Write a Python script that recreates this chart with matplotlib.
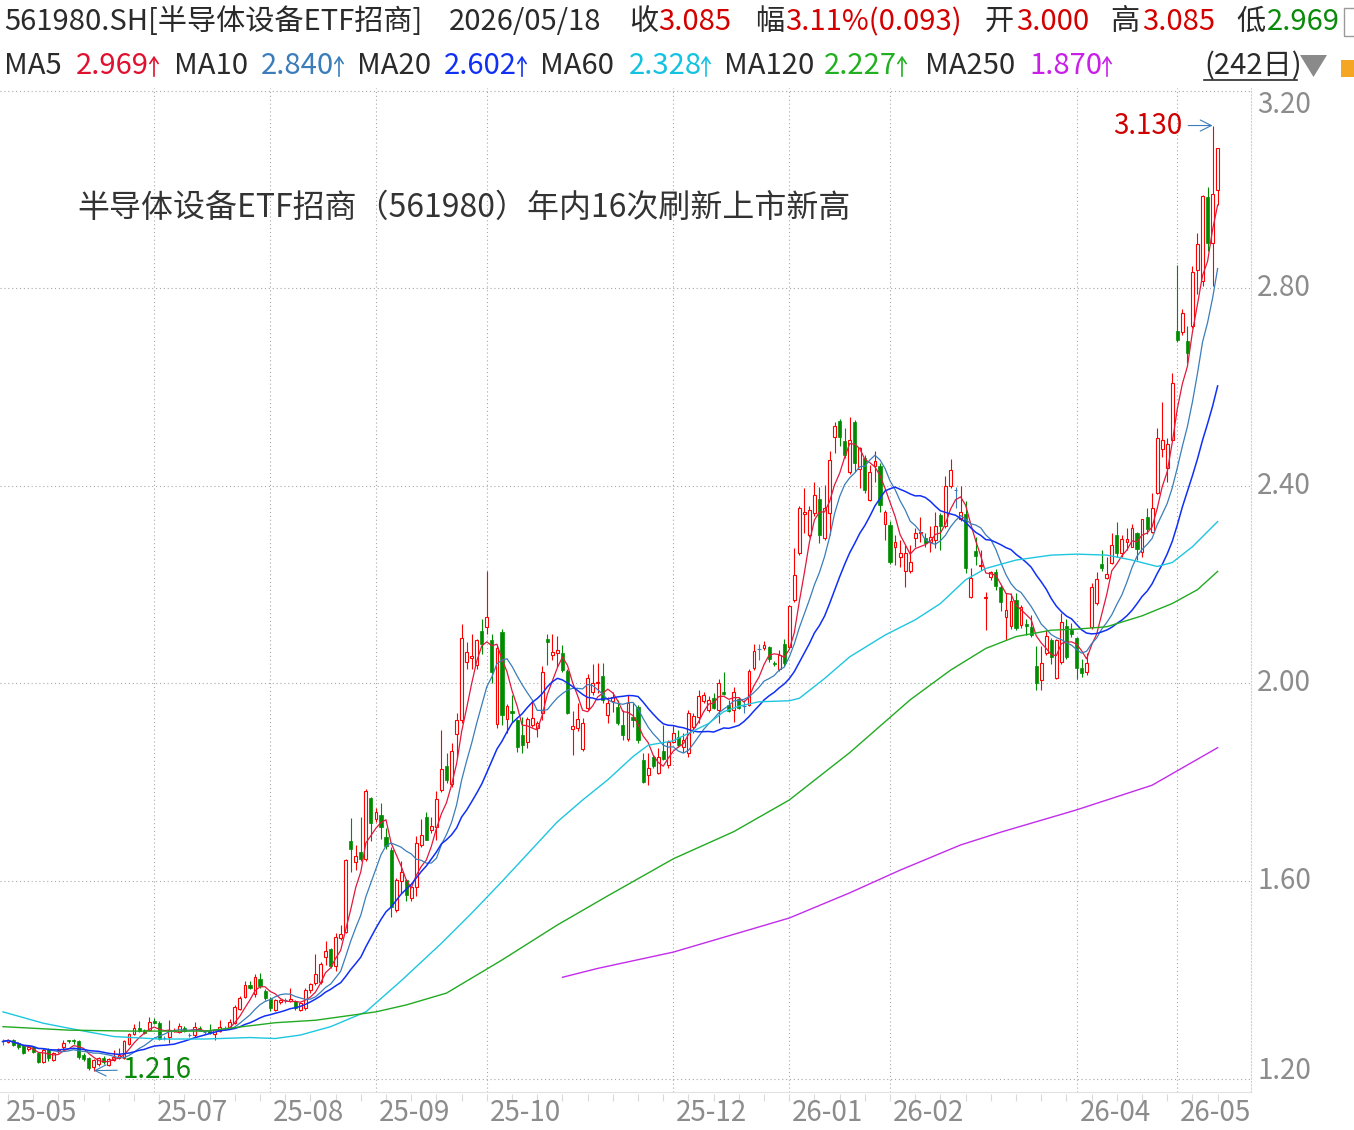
import numpy as np
import pandas as pd
import matplotlib
matplotlib.use("Agg")
import matplotlib.pyplot as plt
from matplotlib.lines import Line2D
from matplotlib.patches import Rectangle, Polygon, FancyArrowPatch

plt.rcParams['font.family'] = ['Noto Sans CJK SC', 'DejaVu Sans']

W, H = 1354, 1130

# daily OHLC of 561980.SH, 242 sessions up to 2026/05/18
opens = [
    1.275, 1.274, 1.278, 1.271, 1.266, 1.259, 1.263, 1.252, 1.234, 1.259,
    1.238, 1.255, 1.263, 1.277, 1.277, 1.276, 1.248, 1.241, 1.224, 1.229,
    1.241, 1.227, 1.237, 1.241, 1.241, 1.270, 1.291, 1.303, 1.298, 1.298,
    1.316, 1.313, 1.283, 1.284, 1.297, 1.295, 1.303, 1.288, 1.288, 1.302,
    1.295, 1.298, 1.290, 1.297, 1.303, 1.305, 1.312, 1.340, 1.366, 1.390,
    1.372, 1.401, 1.377, 1.362, 1.339, 1.354, 1.359, 1.358, 1.356, 1.339,
    1.342, 1.379, 1.393, 1.396, 1.447, 1.462, 1.427, 1.484, 1.497, 1.681,
    1.639, 1.658, 1.645, 1.769, 1.725, 1.734, 1.690, 1.663, 1.541, 1.601,
    1.602, 1.566, 1.588, 1.672, 1.730, 1.703, 1.710, 1.784, 1.833, 1.796,
    1.897, 1.927, 2.044, 2.052, 2.037, 2.107, 2.115, 2.088, 1.917, 2.105,
    1.929, 1.945, 1.926, 1.896, 1.882, 1.916, 1.909, 1.940, 2.091, 2.058,
    2.061, 2.061, 2.026, 1.908, 1.909, 1.867, 1.950, 1.983, 2.002, 2.015,
    1.937, 1.965, 1.952, 1.916, 1.887, 1.933, 1.952, 1.845, 1.815, 1.852,
    1.819, 1.863, 1.835, 1.882, 1.892, 1.872, 1.859, 1.911, 1.933, 1.964,
    1.946, 1.970, 1.946, 1.983, 1.956, 1.946, 1.968, 1.955, 1.957, 2.031,
    2.069, 2.071, 2.073, 2.042, 2.029, 2.080, 2.074, 2.169, 2.264, 2.343,
    2.301, 2.346, 2.374, 2.294, 2.345, 2.499, 2.532, 2.492, 2.429, 2.530,
    2.435, 2.456, 2.371, 2.441, 2.440, 2.323, 2.321, 2.276, 2.256, 2.227,
    2.227, 2.294, 2.305, 2.294, 2.287, 2.291, 2.341, 2.318, 2.400, 2.392,
    2.333, 2.344, 2.176, 2.268, 2.238, 2.173, 2.216, 2.225, 2.196, 2.134,
    2.117, 2.170, 2.119, 2.120, 2.115, 2.035, 2.007, 2.062, 2.088, 2.011,
    2.044, 2.117, 2.108, 2.093, 2.031, 2.024, 2.115, 2.164, 2.242, 2.214,
    2.245, 2.301, 2.265, 2.287, 2.277, 2.304, 2.267, 2.337, 2.307, 2.385,
    2.474, 2.436, 2.493, 2.713, 2.711, 2.694, 2.723, 2.838, 2.815, 2.985,
    2.892, 3.000,
]
highs = [
    1.281, 1.281, 1.280, 1.273, 1.268, 1.266, 1.266, 1.254, 1.261, 1.262,
    1.254, 1.262, 1.278, 1.279, 1.280, 1.279, 1.252, 1.243, 1.240, 1.244,
    1.245, 1.242, 1.258, 1.262, 1.278, 1.293, 1.310, 1.316, 1.301, 1.324,
    1.323, 1.316, 1.286, 1.318, 1.303, 1.313, 1.307, 1.292, 1.315, 1.306,
    1.298, 1.310, 1.300, 1.318, 1.306, 1.320, 1.348, 1.368, 1.398, 1.398,
    1.412, 1.413, 1.382, 1.365, 1.362, 1.362, 1.363, 1.383, 1.359, 1.355,
    1.383, 1.394, 1.452, 1.436, 1.478, 1.465, 1.494, 1.510, 1.645, 1.728,
    1.673, 1.730, 1.787, 1.771, 1.748, 1.757, 1.707, 1.668, 1.606, 1.640,
    1.605, 1.590, 1.692, 1.726, 1.740, 1.730, 1.783, 1.905, 1.860, 1.880,
    1.940, 2.120, 2.085, 2.100, 2.090, 2.130, 2.227, 2.100, 2.077, 2.110,
    1.958, 1.977, 1.928, 1.933, 1.933, 1.965, 1.924, 2.035, 2.100, 2.100,
    2.096, 2.078, 2.030, 1.945, 1.960, 1.930, 2.020, 2.040, 2.042, 2.041,
    1.973, 1.983, 1.967, 1.946, 1.977, 1.960, 1.956, 1.859, 1.859, 1.856,
    1.869, 1.916, 1.886, 1.913, 1.906, 1.899, 1.946, 1.940, 1.987, 1.983,
    1.975, 1.981, 2.010, 2.024, 1.966, 1.993, 1.973, 1.966, 2.030, 2.081,
    2.080, 2.087, 2.076, 2.046, 2.068, 2.091, 2.159, 2.274, 2.360, 2.395,
    2.360, 2.409, 2.397, 2.403, 2.470, 2.530, 2.536, 2.517, 2.540, 2.534,
    2.478, 2.462, 2.442, 2.471, 2.447, 2.352, 2.330, 2.300, 2.290, 2.280,
    2.280, 2.314, 2.338, 2.304, 2.318, 2.348, 2.345, 2.420, 2.454, 2.397,
    2.400, 2.370, 2.233, 2.297, 2.270, 2.186, 2.228, 2.231, 2.199, 2.183,
    2.183, 2.184, 2.159, 2.130, 2.139, 2.075, 2.075, 2.108, 2.093, 2.090,
    2.142, 2.130, 2.122, 2.095, 2.049, 2.061, 2.203, 2.225, 2.270, 2.257,
    2.304, 2.328, 2.301, 2.314, 2.323, 2.307, 2.333, 2.356, 2.385, 2.517,
    2.571, 2.497, 2.628, 2.848, 2.758, 2.724, 2.846, 2.913, 2.990, 3.006,
    3.130, 3.085,
]
lows = [
    1.268, 1.271, 1.266, 1.260, 1.249, 1.256, 1.252, 1.231, 1.232, 1.236,
    1.235, 1.252, 1.260, 1.272, 1.270, 1.240, 1.236, 1.218, 1.216, 1.226,
    1.230, 1.225, 1.235, 1.239, 1.239, 1.268, 1.289, 1.295, 1.291, 1.296,
    1.310, 1.279, 1.278, 1.272, 1.294, 1.292, 1.294, 1.284, 1.285, 1.297,
    1.291, 1.290, 1.278, 1.295, 1.299, 1.303, 1.310, 1.338, 1.363, 1.381,
    1.365, 1.383, 1.360, 1.337, 1.337, 1.350, 1.353, 1.355, 1.338, 1.336,
    1.339, 1.374, 1.390, 1.392, 1.430, 1.424, 1.418, 1.481, 1.495, 1.619,
    1.622, 1.640, 1.640, 1.682, 1.720, 1.685, 1.665, 1.528, 1.538, 1.575,
    1.560, 1.560, 1.570, 1.668, 1.683, 1.698, 1.683, 1.780, 1.798, 1.790,
    1.850, 1.920, 2.030, 2.030, 2.030, 2.060, 2.100, 2.000, 1.910, 1.916,
    1.899, 1.923, 1.862, 1.860, 1.870, 1.912, 1.892, 1.926, 2.037, 2.047,
    2.034, 2.024, 1.938, 1.856, 1.904, 1.864, 1.946, 1.976, 1.980, 1.960,
    1.919, 1.943, 1.915, 1.886, 1.884, 1.912, 1.880, 1.798, 1.795, 1.828,
    1.816, 1.845, 1.828, 1.880, 1.872, 1.862, 1.852, 1.899, 1.919, 1.960,
    1.943, 1.948, 1.919, 1.976, 1.943, 1.923, 1.948, 1.940, 1.955, 2.027,
    2.048, 2.068, 2.044, 2.036, 2.026, 2.036, 2.070, 2.166, 2.260, 2.304,
    2.297, 2.340, 2.285, 2.290, 2.300, 2.466, 2.480, 2.456, 2.425, 2.429,
    2.396, 2.385, 2.370, 2.408, 2.348, 2.291, 2.243, 2.240, 2.236, 2.195,
    2.223, 2.277, 2.287, 2.277, 2.267, 2.274, 2.270, 2.314, 2.396, 2.355,
    2.330, 2.224, 2.174, 2.240, 2.230, 2.108, 2.210, 2.190, 2.146, 2.088,
    2.110, 2.108, 2.113, 2.098, 2.095, 1.987, 1.987, 2.058, 2.040, 2.009,
    2.040, 2.050, 2.094, 2.010, 2.014, 2.018, 2.110, 2.158, 2.228, 2.211,
    2.242, 2.257, 2.257, 2.270, 2.277, 2.250, 2.257, 2.303, 2.305, 2.383,
    2.458, 2.409, 2.493, 2.692, 2.706, 2.650, 2.720, 2.789, 2.804, 2.875,
    2.804, 2.969,
]
closes = [
    1.275, 1.279, 1.268, 1.263, 1.251, 1.263, 1.254, 1.234, 1.258, 1.241,
    1.252, 1.258, 1.272, 1.276, 1.275, 1.243, 1.239, 1.221, 1.237, 1.241,
    1.234, 1.239, 1.244, 1.248, 1.275, 1.290, 1.303, 1.297, 1.293, 1.315,
    1.313, 1.281, 1.283, 1.298, 1.299, 1.306, 1.297, 1.288, 1.305, 1.299,
    1.295, 1.292, 1.298, 1.305, 1.303, 1.315, 1.345, 1.364, 1.389, 1.383,
    1.406, 1.387, 1.364, 1.342, 1.359, 1.359, 1.359, 1.361, 1.342, 1.352,
    1.379, 1.391, 1.411, 1.432, 1.459, 1.427, 1.487, 1.493, 1.642, 1.664,
    1.651, 1.645, 1.783, 1.717, 1.739, 1.710, 1.671, 1.548, 1.602, 1.619,
    1.572, 1.588, 1.676, 1.693, 1.684, 1.712, 1.767, 1.826, 1.805, 1.863,
    1.927, 2.093, 2.064, 2.055, 2.088, 2.081, 2.134, 2.024, 2.071, 1.936,
    1.954, 1.941, 1.872, 1.876, 1.929, 1.931, 1.921, 2.024, 2.085, 2.063,
    2.068, 2.027, 1.941, 1.913, 1.929, 1.919, 2.012, 2.000, 2.004, 1.967,
    1.960, 1.973, 1.919, 1.896, 1.960, 1.926, 1.886, 1.801, 1.829, 1.833,
    1.852, 1.848, 1.882, 1.900, 1.875, 1.885, 1.941, 1.934, 1.975, 1.976,
    1.966, 1.950, 2.000, 1.979, 1.945, 1.983, 1.950, 1.955, 2.026, 2.065,
    2.069, 2.077, 2.050, 2.039, 2.058, 2.041, 2.156, 2.220, 2.355, 2.348,
    2.351, 2.382, 2.301, 2.355, 2.453, 2.521, 2.499, 2.463, 2.493, 2.447,
    2.476, 2.391, 2.429, 2.450, 2.361, 2.347, 2.247, 2.287, 2.264, 2.264,
    2.247, 2.304, 2.307, 2.284, 2.297, 2.318, 2.318, 2.400, 2.432, 2.392,
    2.348, 2.233, 2.213, 2.258, 2.240, 2.175, 2.225, 2.198, 2.166, 2.148,
    2.167, 2.113, 2.154, 2.116, 2.098, 2.002, 2.041, 2.097, 2.054, 2.088,
    2.125, 2.054, 2.101, 2.031, 2.022, 2.041, 2.195, 2.211, 2.233, 2.222,
    2.281, 2.265, 2.292, 2.292, 2.314, 2.272, 2.333, 2.312, 2.355, 2.498,
    2.494, 2.486, 2.608, 2.696, 2.750, 2.670, 2.834, 2.890, 2.987, 2.893,
    2.991, 3.085,
]

ma60_bar = [0, 8, 15, 22, 31, 40, 49, 54, 59, 65, 72, 79, 87, 93, 99, 105, 110,
            115, 120, 125, 128, 133, 136, 140, 143, 146, 150, 156, 158, 163, 168,
            175, 181, 186, 191, 195, 201, 208, 213, 219, 224, 229, 232, 236, 241]
ma60_val = [1.335, 1.312, 1.298, 1.285, 1.280, 1.280, 1.283, 1.281, 1.288, 1.305,
            1.335, 1.398, 1.474, 1.535, 1.599, 1.665, 1.720, 1.764, 1.805, 1.852,
            1.875, 1.884, 1.899, 1.919, 1.943, 1.954, 1.963, 1.965, 1.970, 2.010,
            2.054, 2.098, 2.129, 2.162, 2.210, 2.233, 2.250, 2.260, 2.262, 2.260,
            2.250, 2.237, 2.245, 2.277, 2.328]
ma120_bar = [0, 13, 26, 40, 50, 54, 62, 74, 80, 88, 99, 110, 120, 133, 145, 156,
             168, 180, 188, 195, 201, 208, 213, 219, 226, 232, 237, 241]
ma120_val = [1.305, 1.298, 1.296, 1.296, 1.308, 1.313, 1.318, 1.335, 1.349, 1.373,
             1.440, 1.511, 1.570, 1.645, 1.700, 1.764, 1.860, 1.967, 2.027, 2.071,
             2.095, 2.108, 2.110, 2.115, 2.137, 2.162, 2.190, 2.227]
ma250_bar = [111, 118, 133, 148, 156, 168, 178, 190, 198, 213, 228, 241]
ma250_val = [1.405, 1.423, 1.456, 1.501, 1.525, 1.576, 1.622, 1.673, 1.699, 1.744,
             1.794, 1.870]

month_bars = [0, 30, 53, 74, 96, 133, 156, 176, 213, 233]
month_labels = ["25-05", "25-07", "25-08", "25-09", "25-10", "25-12",
                "26-01", "26-02", "26-04", "26-05"]
price_ticks = [1.20, 1.60, 2.00, 2.40, 2.80, 3.20]

high_bar, high_val = 240, 3.130
low_bar, low_val = 18, 1.216

RED = "#FF0000"
GRN = "#008C00"
DOJI = "#3A7DBA"
C_MA5 = "#E2183C"
C_MA10 = "#3A7DBA"
C_MA20 = "#1030F5"
C_MA60 = "#1EC6E0"
C_MA120 = "#22AA22"
C_MA250 = "#C22CEB"
DARK = "#2A2A2A"
VAL_RED = "#D40000"
GREY = "#8C8C8C"


def fx(px):
    return px / W


def fy(py):
    return 1 - py / H


fig = plt.figure(figsize=(W / 100, H / 100), dpi=100)
ax = fig.add_axes([0, fy(1092), fx(1251), (1092 - 88) / H])

o = np.array(opens)
h = np.array(highs)
l = np.array(lows)
c = np.array(closes)
x = np.arange(len(c))
up = c > o
dn = c < o
eq = c == o

# candles: hollow red up, filled green down, blue cross for doji
ax.vlines(x[up], l[up], h[up], color=RED, lw=0.8, zorder=2)
ax.bar(x[up], (c - o)[up], bottom=o[up], width=0.55, facecolor="white",
       edgecolor=RED, lw=0.8, zorder=3)
ax.vlines(x[dn], l[dn], h[dn], color=GRN, lw=0.8, zorder=2)
ax.bar(x[dn], (o - c)[dn], bottom=c[dn], width=0.62, color=GRN,
       edgecolor=GRN, lw=0.5, zorder=3)
ax.vlines(x[eq], l[eq], h[eq], color=DOJI, lw=0.8, zorder=2)
ax.hlines(c[eq], x[eq] - 0.35, x[eq] + 0.35, color=DOJI, lw=0.8, zorder=3)

# moving averages
cs = pd.Series(closes)
ax.plot(x, cs.rolling(5, min_periods=1).mean(), color=C_MA5, lw=0.9, zorder=4)
ax.plot(x, cs.rolling(10, min_periods=1).mean(), color=C_MA10, lw=0.9, zorder=4)
ax.plot(x, cs.rolling(20, min_periods=1).mean(), color=C_MA20, lw=1.1, zorder=4)
ax.plot(ma60_bar, ma60_val, color=C_MA60, lw=1.0, zorder=4)
ax.plot(ma120_bar, ma120_val, color=C_MA120, lw=1.0, zorder=4)
ax.plot(ma250_bar, ma250_val, color=C_MA250, lw=1.0, zorder=4)

ax.set_xlim(-0.595, 247.62)
ax.set_ylim(1.1727, 3.206)

# grid
for v in price_ticks:
    ax.axhline(v, color="#A8A8A8", lw=0.8, ls=(0, (1, 2.5)), zorder=1)
for b in month_bars[1:]:
    ax.axvline(b, color="#A8A8A8", lw=0.8, ls=(0, (1, 2.5)), zorder=1)

for s in ["left", "top"]:
    ax.spines[s].set_visible(False)
ax.spines["bottom"].set_color("#E2E2E2")
ax.spines["right"].set_color("#D0D0D0")
ax.spines["right"].set_linestyle((0, (1, 2)))
ax.set_xticks([])
ax.set_yticks([])

# price labels on the right
for v in price_ticks:
    dy = 0
    if v == max(price_ticks):
        dy = -14
    elif v == min(price_ticks):
        dy = 8
    ax.annotate(f"{v:.2f}", xy=(1, v), xycoords=("axes fraction", "data"),
                xytext=(6, dy), textcoords="offset pixels", ha="left",
                va="center", fontsize=20, color=GREY, annotation_clip=False)

# month labels and small weekly ticks
for b, lbl in zip(month_bars, month_labels):
    ax.annotate(lbl, xy=(b, 0), xycoords=("data", "axes fraction"),
                xytext=(3, -21), textcoords="offset pixels", ha="left",
                va="center", fontsize=20, color=GREY, annotation_clip=False)
wk = np.arange(len(c) - 1, -1, -5)
ax.vlines(wk, -0.009, -0.002, transform=ax.get_xaxis_transform(),
          color="#DADADA", lw=0.8, clip_on=False)

# high / low marks
ax.annotate(f"{high_val:.3f}", xy=(high_bar, high_val), xytext=(-30, 0),
            textcoords="offset pixels", ha="right", va="center", fontsize=20,
            color="#D00000",
            arrowprops=dict(arrowstyle="->", color=DOJI, lw=0.8,
                            shrinkA=2, shrinkB=0))
ax.annotate(f"{low_val:.3f}", xy=(low_bar, low_val), xytext=(29, 1),
            textcoords="offset pixels", ha="left", va="center", fontsize=20,
            color="#0A8A0A",
            arrowprops=dict(arrowstyle="->", color=DOJI, lw=0.8,
                            shrinkA=2, shrinkB=0))

fig.text(fx(77), fy(208), "半导体设备ETF招商（561980）年内16次刷新上市新高",
         fontsize=23, color="#333333", va="center", ha="left")

# header, line 1
hs = 21
line1 = [
    (4, "561980.SH[半导体设备ETF招商]", DARK),
    (449, "2026/05/18", DARK),
    (629, "收", DARK), (658, "3.085", VAL_RED),
    (755, "幅", DARK), (785, "3.11%(0.093)", VAL_RED),
    (984, "开", DARK), (1016, "3.000", VAL_RED),
    (1110, "高", DARK), (1142, "3.085", VAL_RED),
    (1236, "低", DARK), (1267, "2.969", "#0A8A0A"),
]
for px, s, col in line1:
    fig.text(fx(px), fy(22), s, fontsize=hs, color=col, va="center", ha="left")
fig.patches.append(Rectangle((fx(1344), fy(36)), fx(14), 28 / H, fill=False,
                             edgecolor="#9A9A9A", lw=1.0,
                             transform=fig.transFigure, figure=fig))

# header, line 2: MA values with a thin rising arrow after each
line2 = [
    (4, "MA5", "2.969", 76, 154, "#E0102F"),
    (174, "MA10", "2.840", 261, 339, C_MA10),
    (357, "MA20", "2.602", 444, 522, C_MA20),
    (540, "MA60", "2.328", 629, 706, "#12C2E0"),
    (724, "MA120", "2.227", 824, 902, "#22B022"),
    (925, "MA250", "1.870", 1029, 1107, "#C820E8"),
]
for px, name, val, vx, ax_x, col in line2:
    fig.text(fx(px), fy(66), name, fontsize=hs, color=DARK, va="center")
    fig.text(fx(vx), fy(66), val, fontsize=hs, color=col, va="center")
    fig.patches.append(FancyArrowPatch(
        (fx(ax_x), fy(79)), (fx(ax_x), fy(53)),
        arrowstyle="->,head_length=0.45,head_width=0.3", mutation_scale=10,
        color=col, lw=1.2, transform=fig.transFigure, figure=fig))
fig.text(fx(1204), fy(66), "(242日)", fontsize=hs, color=DARK, va="center")
fig.lines.append(Line2D([fx(1204), fx(1297)], [fy(80), fy(80)], color=DARK,
                        lw=1.2, transform=fig.transFigure))
fig.patches.append(Polygon([(fx(1300), fy(55)), (fx(1327), fy(55)),
                            (fx(1313.5), fy(77))], closed=True,
                           facecolor="#8A8A8A", edgecolor="none",
                           transform=fig.transFigure, figure=fig))
fig.patches.append(Rectangle((fx(1341), fy(77)), fx(14), 17 / H,
                             facecolor="#F5A623", edgecolor="none",
                             transform=fig.transFigure, figure=fig))

fig.savefig("out.png", dpi=100, facecolor="white")
